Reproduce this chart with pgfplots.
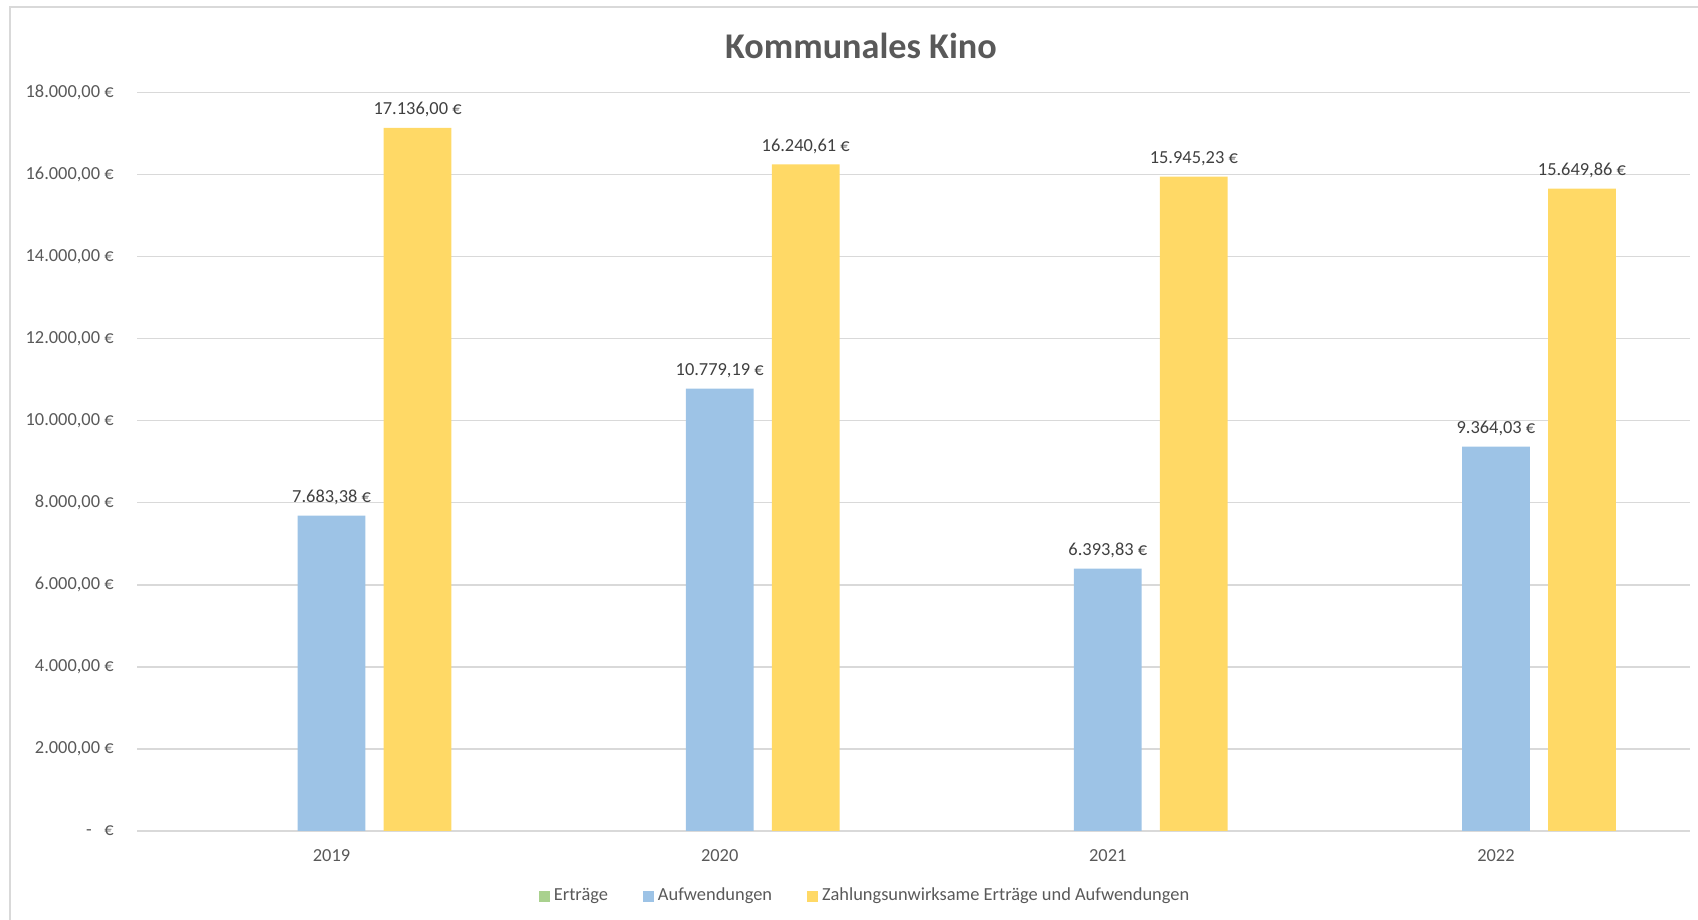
\documentclass[border=0pt]{standalone}
\usepackage{pgfplots}
\pgfplotsset{compat=1.18}
\usepackage{fontspec}
\setmainfont{Carlito}
\definecolor{txt}{HTML}{595959}
\definecolor{lbl}{HTML}{404040}
\definecolor{gridc}{HTML}{D9D9D9}
\definecolor{cgreen}{HTML}{A9D18E}
\definecolor{cblue}{HTML}{9DC3E6}
\definecolor{cyellow}{HTML}{FFD966}
\pgfplotstableread{
x y label
-0.2216 0 0
0.7784 0 0
1.7784 0 0
2.7784 0 0
}\ertraege
\pgfplotstableread{
x y label
0 7683.38 7.683,38
1 10779.19 10.779,19
2 6393.83 6.393,83
3 9364.03 9.364,03
}\aufwendungen
\pgfplotstableread{
x y label
0.2216 17136.00 17.136,00
1.2216 16240.61 16.240,61
2.2216 15945.23 15.945,23
3.2216 15649.86 15.649,86
}\zahlungsunw
\begin{document}
\begin{tikzpicture}
\useasboundingbox (-68.75bp,-44.5bp) rectangle (780.25bp,415.5bp);
\clip (-68.75bp,-44.5bp) rectangle (780.25bp,415.5bp);
\draw[gridc, line width=0.75bp] (-63.75bp,-80bp) -- (-63.75bp,412bp) -- (820bp,412bp);
\begin{axis}[
  at={(0,0)}, anchor=south west,
  scale only axis, width=776.25bp, height=369.35bp,
  xmin=-0.5, xmax=3.5, ymin=0, ymax=18000,
  scaled y ticks=false, scaled x ticks=false,
  axis line style={draw=none},
  major tick length=0pt,
  ymajorgrids, grid style={gridc, line width=0.75bp},
  xtick={0,1,2,3}, xticklabels={2019,2020,2021,2022},
  ytick={0,2000,4000,6000,8000,10000,12000,14000,16000,18000},
  yticklabels={{-\hspace{6.25bp}€},{2.000,00 €},{4.000,00 €},{6.000,00 €},{8.000,00 €},{10.000,00 €},{12.000,00 €},{14.000,00 €},{16.000,00 €},{18.000,00 €}},
  tick label style={font=\fontsize{9.2bp}{11bp}\selectfont, text=txt},
  yticklabel style={anchor=east, inner sep=0pt, xshift=-11.75bp},
  xticklabel style={anchor=base, inner sep=0pt, yshift=-15.2bp},
  legend columns=-1,
  legend cell align=left,
  legend style={at={(0.468,-0.088)}, anchor=center, draw=none, fill=none,
    font=\fontsize{9.2bp}{11bp}\selectfont, text=txt,
    inner sep=0pt, outer sep=0pt,
    nodes={inner sep=0pt, outer sep=0pt},
    /tikz/every odd column/.append style={column sep=2bp},
    /tikz/every even column/.append style={column sep=17.5bp}},
]
\addplot[ybar, bar width=0.1744, bar shift=0, fill=cgreen, draw=none,
  legend image code/.code={\fill[cgreen] (0bp,-2.75bp) rectangle (5.5bp,2.75bp);}]
  table[x=x, y=y] {\ertraege};
\addlegendentry{Erträge}
\addplot[ybar, bar width=0.1744, bar shift=0, fill=cblue, draw=none,
  legend image code/.code={\fill[cblue] (0bp,-2.75bp) rectangle (5.5bp,2.75bp);},
  point meta=explicit symbolic,
  nodes near coords={\pgfplotspointmeta~€},
  nodes near coords style={anchor=base, inner sep=0pt, yshift=6.6bp, font=\fontsize{9.2bp}{11bp}\selectfont, text=lbl}]
  table[x=x, y=y, meta=label] {\aufwendungen};
\addlegendentry{Aufwendungen}
\addplot[ybar, bar width=0.1744, bar shift=0, fill=cyellow, draw=none,
  legend image code/.code={\fill[cyellow] (0bp,-2.75bp) rectangle (5.5bp,2.75bp);},
  point meta=explicit symbolic,
  nodes near coords={\pgfplotspointmeta~€},
  nodes near coords style={anchor=base, inner sep=0pt, yshift=6.6bp, font=\fontsize{9.2bp}{11bp}\selectfont, text=lbl}]
  table[x=x, y=y, meta=label] {\zahlungsunw};
\addlegendentry{Zahlungsunwirksame Erträge und Aufwendungen}
\end{axis}
\node[anchor=base, font=\bfseries\fontsize{18.1bp}{22bp}\selectfont, text=txt, inner sep=0pt] at (361.75bp,386.35bp) {Kommunales Kino};
\end{tikzpicture}
\end{document}
